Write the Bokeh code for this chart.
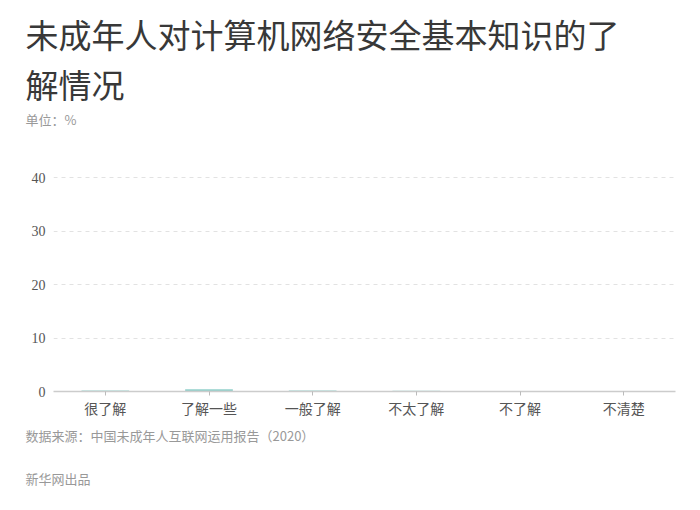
from bokeh.plotting import figure
from bokeh.models import Range1d, FixedTicker, Title
from bokeh.embed import file_html
from bokeh.resources import INLINE

categories = ["很了解", "了解一些", "一般了解", "不太了解", "不了解", "不清楚"]
values = [0.2, 0.4, 0.2, 0.15, 0.08, 0.06]
y_ticks = [0, 10, 20, 30, 40]

title_lines = ["未成年人对计算机网络安全基本知识的了", "解情况"]
unit_text = "单位：%"
source_text = "数据来源：中国未成年人互联网运用报告（2020）"
credit_text = "新华网出品"

CJK = "Noto Sans CJK SC"
W, H = 684, 494
LEFT = 53

p = figure(
    x_range=categories, y_range=Range1d(0, 40.2),
    width=W, height=H,
    output_backend="svg", toolbar_location=None,
    min_border_left=LEFT, min_border_right=9,
    min_border_top=176, min_border_bottom=103,
)
p.outline_line_color = None
p.background_fill_color = "white"
p.border_fill_color = "white"

p.vbar(x=categories, top=values, width=0.46, color="#92d0cb", line_color=None)

p.xgrid.grid_line_color = None
p.ygrid.grid_line_color = "#e2e2e2"
p.ygrid.grid_line_dash = "4 4"
p.yaxis.ticker = FixedTicker(ticks=y_ticks)

p.yaxis.axis_line_color = None
p.yaxis.major_tick_line_color = None
p.yaxis.minor_tick_line_color = None
p.yaxis.major_label_text_font = "Liberation Serif"
p.yaxis.major_label_text_font_size = "14px"
p.yaxis.major_label_text_color = "#555555"
p.yaxis.major_label_standoff = 2

p.xaxis.axis_line_color = "#cccccc"
p.xaxis.axis_line_width = 1.5
p.xaxis.major_tick_line_color = "#bbbbbb"
p.xaxis.major_tick_out = 4
p.xaxis.major_tick_in = 0
p.xaxis.major_label_text_font = CJK
p.xaxis.major_label_text_font_size = "14px"
p.xaxis.major_label_text_color = "#555555"
p.xaxis.major_label_standoff = 2


def ttl(text, size, color, standoff, line_height=None):
    t = Title(text=text, align="left", offset=25 - LEFT,
              text_font=CJK, text_font_size=size, text_color=color,
              text_font_style="normal", standoff=standoff)
    if line_height is not None:
        t.text_line_height = line_height
    return t


def spacer(standoff):
    return Title(text=" ", text_font_size="1px", standoff=standoff)

# above: added first = closest to frame
p.add_layout(spacer(45), "above")
p.add_layout(ttl(unit_text, "13px", "#999999", 0), "above")
p.add_layout(ttl(title_lines[1], "33px", "#383838", 0, line_height=0.9), "above")
p.add_layout(ttl(title_lines[0], "33px", "#383838", 0), "above")

# below: after the x axis
p.add_layout(ttl(source_text, "13px", "#999999", 6), "below")
p.add_layout(spacer(9), "below")
p.add_layout(ttl(credit_text, "13px", "#999999", 14), "below")

open("out.html", "w").write(file_html(p, INLINE))
